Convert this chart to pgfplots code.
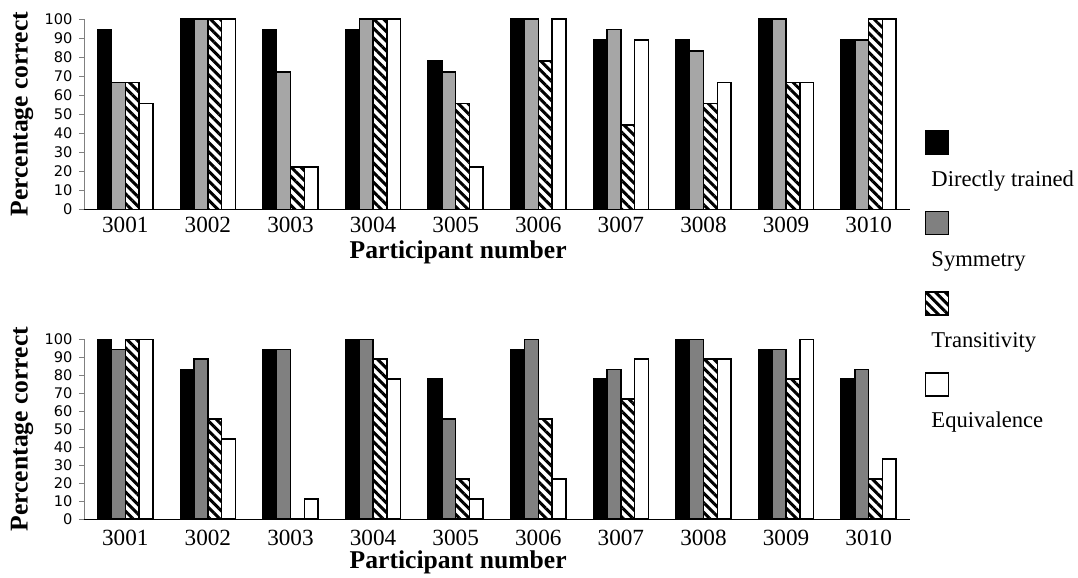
\documentclass[border=0pt]{standalone}
\usepackage{fontspec}
\setmainfont{Liberation Serif}
\newfontfamily\tickfont{DejaVu Sans}
\usepackage{pgfplots}
\usepackage{pgfplotstable}
\pgfplotsset{compat=1.18}
\usetikzlibrary{patterns.meta}

\definecolor{lightgrey}{HTML}{A6A6A6}
\definecolor{midgrey}{HTML}{808080}

% top panel
\pgfplotstableread{
x dt    sym   tr    eq
0 94.4  66.7  66.7  55.6
1 100   100   100   100
2 94.4  72.2  22.2  22.2
3 94.4  100   100   100
4 77.8  72.2  55.6  22.2
5 100   100   77.8  100
6 88.9  94.4  44.4  88.9
7 88.9  83.3  55.6  66.7
8 100   100   66.7  66.7
9 88.9  88.9  100   100
}\toptable

% bottom panel
\pgfplotstableread{
x dt    sym   tr    eq
0 100   94.4  100   100
1 83.3  88.9  55.6  44.4
2 94.4  94.4  0.4   11.1
3 100   100   88.9  77.8
4 77.8  55.6  22.2  11.1
5 94.4  100   55.6  22.2
6 77.8  83.3  66.7  88.9
7 100   100   88.9  88.9
8 94.4  94.4  77.8  100
9 77.8  83.3  22.2  33.3
}\bottable

\pgfplotsset{
  partbars/.style={
    scale only axis, width=413pt, anchor=south west,
    ybar=0pt, bar width=0.1667,
    xmin=-0.5, xmax=9.5, ymin=0, ymax=100,
    xtick=data,
    xticklabels={3001,3002,3003,3004,3005,3006,3007,3008,3009,3010},
    ytick={0,10,...,100},
    axis x line*=bottom, axis y line*=left,
    x axis line style={black, -},
    y axis line style={gray, -},
    xtick style={draw=none},
    ytick style={gray, thin},
    tick align=outside, major tick length=2.25pt,
    /pgf/number format/assume math mode=true,
    yticklabel style={font=\tickfont\fontsize{7.3}{8}\selectfont},
    xticklabel style={font=\fontsize{11.6}{13}\selectfont},
    ylabel={Percentage correct}, xlabel={Participant number},
    label style={font=\bfseries\fontsize{12.8}{14}\selectfont},
    ylabel style={at={(axis description cs:-0.0751,0.5)}, anchor=center},
    every axis plot/.append style={draw=black, line width=0.75pt},
    legend image code/.code={
      \path (0pt,0pt);
      \draw[#1, overlay] (-2.5pt,16pt) rectangle ++(11.5pt,11.5pt);
    },
  },
  hatch/.style={pattern={Lines[angle=-45, distance=3.4pt, line width=1.5pt]}, pattern color=black},
}

\begin{document}
\begin{tikzpicture}
\path[use as bounding box] (0,0) rectangle (539pt,289pt);

\begin{axis}[partbars,
  at={(42pt,184.35pt)}, height=95.15pt,
  xticklabel style={yshift=2pt},
  xlabel style={at={(axis description cs:0.453,-0.226)}, anchor=center},
]
  \addplot[fill=black] table[x=x, y=dt] {\toptable};
  \addplot[fill=lightgrey] table[x=x, y=sym] {\toptable};
  \addplot[hatch] table[x=x, y=tr] {\toptable};
  \addplot[fill=white] table[x=x, y=eq] {\toptable};
\end{axis}

\begin{axis}[partbars,
  at={(42pt,29.5pt)}, height=89.85pt,
  xlabel style={at={(axis description cs:0.453,-0.239)}, anchor=center},
  legend style={at={(axis description cs:1.0242,1.942)}, anchor=north west,
    draw=none, fill=none, inner sep=0pt, outer sep=0pt, row sep=29.8pt,
    cells={anchor=base west},
    nodes={inner sep=0pt, text height=8pt, text depth=2.5pt,
      font=\fontsize{11.3}{13}\selectfont},
    /tikz/every odd column/.style={column sep=0pt}},
]
  \addplot[fill=black] table[x=x, y=dt] {\bottable};
  \addplot[fill=midgrey] table[x=x, y=sym] {\bottable};
  \addplot[hatch] table[x=x, y=tr] {\bottable};
  \addplot[fill=white] table[x=x, y=eq] {\bottable};
  \legend{Directly trained, Symmetry, Transitivity, Equivalence}
\end{axis}
\end{tikzpicture}
\end{document}
